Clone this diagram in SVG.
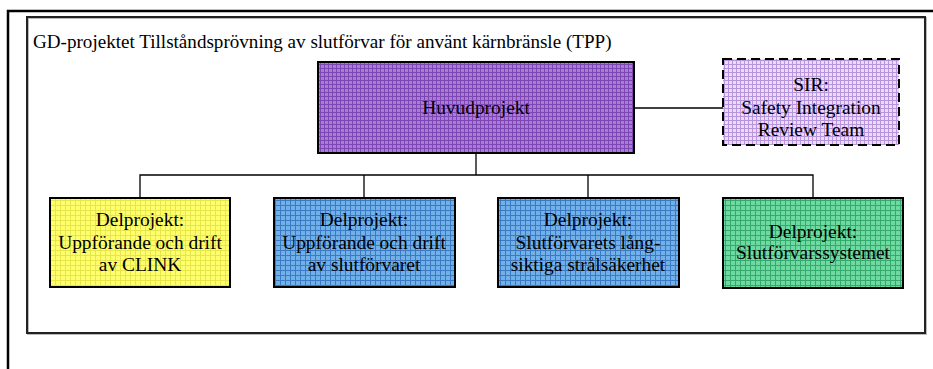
<svg xmlns="http://www.w3.org/2000/svg" width="933" height="369" viewBox="0 0 933 369">
  <style>
    .t { font-family: "Liberation Serif", "Times New Roman", serif; font-size: 19.4px; fill: #000; text-anchor: middle; }
    .title { font-family: "Liberation Serif", "Times New Roman", serif; font-size: 19.1px; fill: #000; }
    .box { stroke: #000; stroke-width: 2; }
    .conn { stroke: #000; stroke-width: 1.3; fill: none; }
  </style>
  <defs>
    <pattern id="gridPurple" width="4" height="4" patternUnits="userSpaceOnUse">
      <rect width="4" height="4" fill="#a77fd0"/>
      <path d="M0 0.5H4M0.5 0V4" stroke="#7d46b4" stroke-width="1"/>
    </pattern>
    <pattern id="gridLavender" width="4" height="4" patternUnits="userSpaceOnUse">
      <rect width="4" height="4" fill="#eadcf5"/>
      <path d="M0 0.5H4M0.5 0V4" stroke="#b795dc" stroke-width="1"/>
    </pattern>
    <pattern id="gridYellow" width="5" height="5" patternUnits="userSpaceOnUse">
      <rect width="5" height="5" fill="#ffff6e"/>
      <path d="M0 0.5H5M0.5 0V5" stroke="#e6e64a" stroke-width="1"/>
    </pattern>
    <pattern id="gridBlue" width="5" height="5" patternUnits="userSpaceOnUse">
      <rect width="5" height="5" fill="#72b0ea"/>
      <path d="M0 0.5H5M0.5 0V5" stroke="#3a7ac2" stroke-width="1"/>
    </pattern>
    <pattern id="gridGreen" width="5" height="5" patternUnits="userSpaceOnUse">
      <rect width="5" height="5" fill="#6fd9a2"/>
      <path d="M0 0.5H5M0.5 0V5" stroke="#35a86c" stroke-width="1"/>
    </pattern>
  </defs>

  <rect width="933" height="369" fill="#fff"/>

  <!-- outer page frame -->
  <path d="M8 369V11H933" fill="none" stroke="#000" stroke-width="2.5"/>

  <!-- project frame -->
  <g id="frame">
    <rect x="28" y="18" width="898" height="316" fill="none" stroke="#bbb" stroke-width="2"/>
    <rect x="27" y="17" width="898" height="316" fill="none" stroke="#222" stroke-width="2"/>
    <text class="title" x="33" y="48">GD-projektet Tillståndsprövning av slutförvar för använt kärnbränsle (TPP)</text>
  </g>

  <!-- connectors -->
  <g id="connectors">
    <path class="conn" d="M634 108H723"/>
    <path class="conn" d="M476 153V175"/>
    <path class="conn" d="M140 198V175H813V198"/>
    <path class="conn" d="M364 175V198"/>
    <path class="conn" d="M588 175V198"/>
  </g>

  <g id="huvudprojekt">
    <rect class="box" x="318" y="62" width="316" height="91" fill="url(#gridPurple)"/>
    <text class="t" x="476" y="114">Huvudprojekt</text>
  </g>

  <g id="sir">
    <rect x="723" y="59" width="176" height="86" fill="url(#gridLavender)" stroke="#000" stroke-width="2" stroke-dasharray="9 5"/>
    <text class="t" x="811" y="91">SIR:</text>
    <text class="t" x="811" y="114">Safety Integration</text>
    <text class="t" x="811" y="136">Review Team</text>
  </g>

  <g id="clink">
    <rect class="box" x="50" y="198" width="180" height="89" fill="url(#gridYellow)"/>
    <text class="t" x="140" y="226">Delprojekt:</text>
    <text class="t" x="140" y="249">Uppförande och drift</text>
    <text class="t" x="140" y="271">av CLINK</text>
  </g>

  <g id="slutforvaret">
    <rect class="box" x="274" y="198" width="181" height="89" fill="url(#gridBlue)"/>
    <text class="t" x="364" y="226">Delprojekt:</text>
    <text class="t" x="364" y="249">Uppförande och drift</text>
    <text class="t" x="364" y="271">av slutförvaret</text>
  </g>

  <g id="stralsakerhet">
    <rect class="box" x="498" y="198" width="181" height="89" fill="url(#gridBlue)"/>
    <text class="t" x="588" y="226">Delprojekt:</text>
    <text class="t" x="588" y="249">Slutförvarets lång-</text>
    <text class="t" x="588" y="271">siktiga strålsäkerhet</text>
  </g>

  <g id="systemet">
    <rect class="box" x="723" y="198" width="180" height="90" fill="url(#gridGreen)"/>
    <text class="t" x="813" y="238">Delprojekt:</text>
    <text class="t" x="813" y="259">Slutförvarssystemet</text>
  </g>
</svg>
